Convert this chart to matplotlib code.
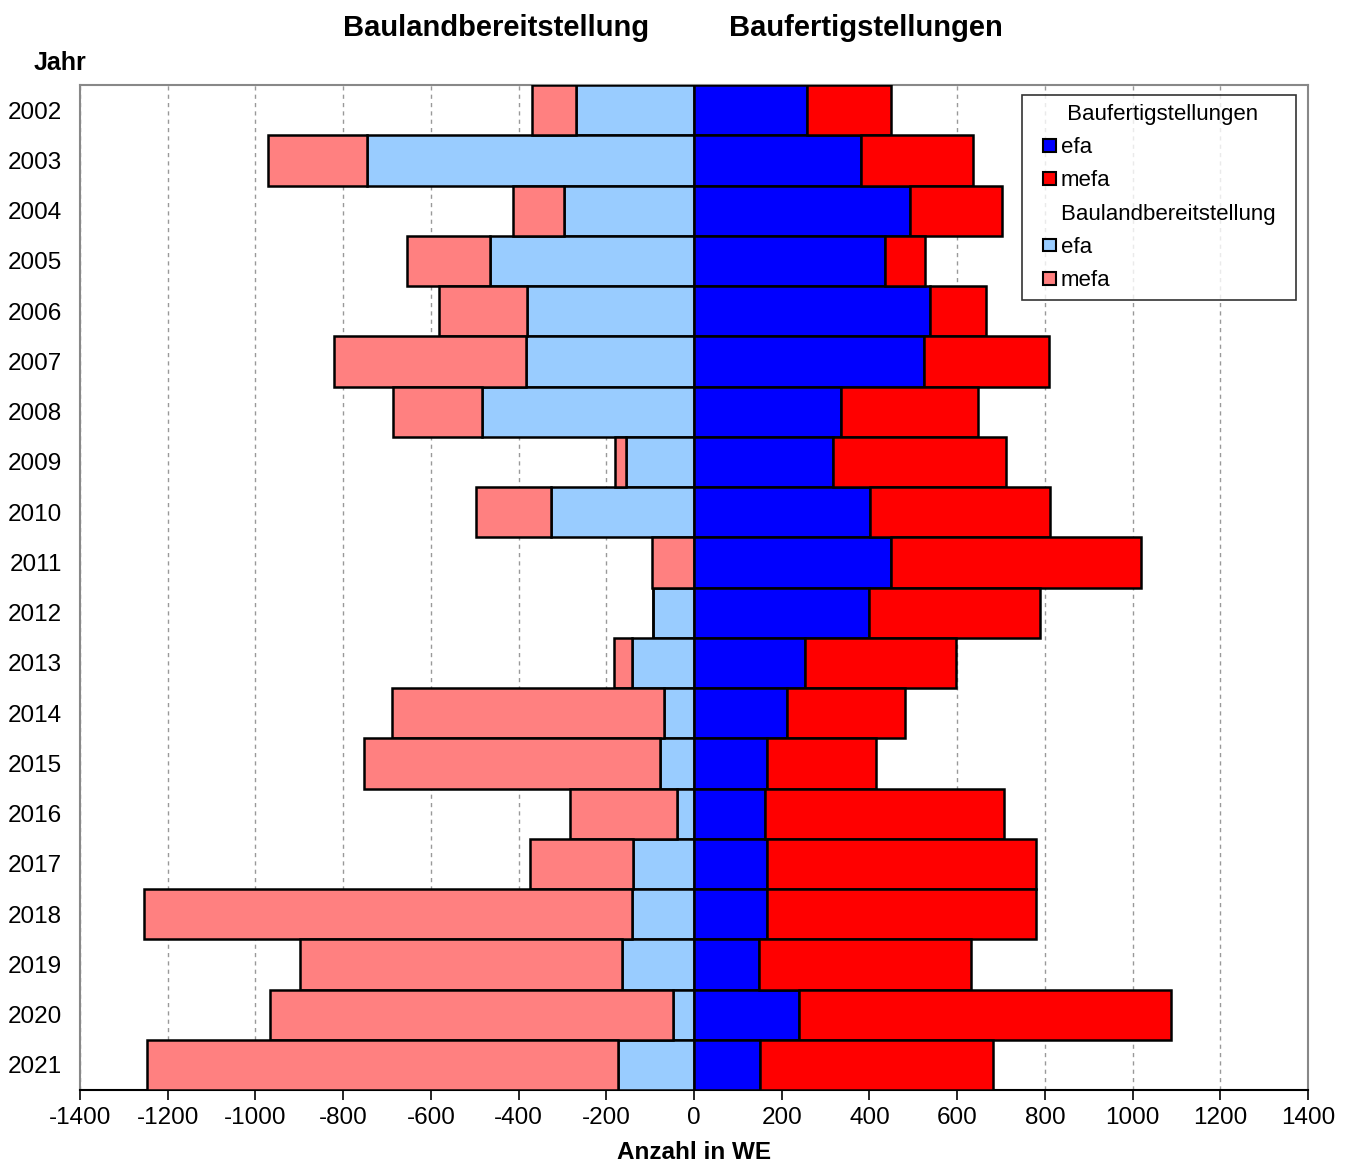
import numpy as np
import matplotlib.pyplot as plt
from matplotlib.patches import Patch, Rectangle
from matplotlib.legend_handler import HandlerPatch

plt.rcParams['font.family'] = ['Liberation Sans', 'DejaVu Sans']
plt.rcParams['axes.unicode_minus'] = False

# Data (Anzahl in WE)
jahre = [str(j) for j in range(2002, 2022)]
bauland_efa = [-270, -746, -296, -465, -381, -383, -483, -155, -326, 0,
               -93, -141, -68, -78, -39, -139, -141, -164, -48, -173]
bauland_gesamt = [-370, -971, -413, -654, -581, -821, -686, -180, -497, -96,
                  -93, -182, -689, -752, -283, -374, -1254, -898, -967, -1247]
fertig_efa = [258, 381, 492, 435, 538, 524, 335, 317, 401, 449,
              399, 253, 212, 166, 162, 166, 166, 148, 239, 150]
fertig_gesamt = [449, 636, 702, 527, 666, 809, 648, 711, 812, 1019,
                 789, 597, 481, 415, 707, 780, 780, 632, 1088, 682]

bauland_mefa = np.array(bauland_gesamt) - np.array(bauland_efa)
fertig_mefa = np.array(fertig_gesamt) - np.array(fertig_efa)

c_efa = '#0000FF'
c_mefa = '#FF0000'
c_lefa = '#99CCFF'
c_lmefa = '#FF8080'

fig = plt.figure(figsize=(13.53, 11.62), dpi=100)
ax = fig.add_axes([80 / 1353, 1 - 1090 / 1162, 1228 / 1353, 1005 / 1162])

y = np.arange(len(jahre))
kw = dict(height=1.0, edgecolor='black', linewidth=1.8, zorder=3)
ax.barh(y, bauland_efa, color=c_lefa, **kw)
ax.barh(y, bauland_mefa, left=bauland_efa, color=c_lmefa, **kw)
ax.barh(y, fertig_efa, color=c_efa, **kw)
ax.barh(y, fertig_mefa, left=fertig_efa, color=c_mefa, **kw)

ax.set_xlim(-1400, 1400)
ax.set_ylim(len(jahre) - 0.5, -0.5)
ax.set_xticks(range(-1400, 1401, 200))
ax.set_yticks(y)
ax.set_yticklabels(jahre)
ax.tick_params(axis='x', labelsize=17.5, length=7, width=1.2, direction='out', pad=5)
ax.tick_params(axis='y', labelsize=17.5, length=0, pad=13)
ax.grid(axis='x', color='#999999', linestyle=(0, (3, 3)), linewidth=1, zorder=0)
for s in ax.spines.values():
    s.set_color('#888888')
    s.set_linewidth(1.5)
ax.spines['bottom'].set_color('black')

ax.set_xlabel('Anzahl in WE', fontsize=17.5, fontweight='bold', labelpad=9)
fig.text(496 / 1353, 1 - 28 / 1162, 'Baulandbereitstellung', fontsize=21,
         fontweight='bold', ha='center', va='center')
fig.text(866 / 1353, 1 - 28 / 1162, 'Baufertigstellungen', fontsize=21,
         fontweight='bold', ha='center', va='center')
fig.text(60 / 1353, 1 - 63 / 1162, 'Jahr', fontsize=18, fontweight='bold',
         ha='center', va='center')


# small square at the right end of the handle box
def square(legend, orig_handle, xdescent, ydescent, width, height, fontsize):
    h = 0.58 * fontsize
    return Rectangle((width - h - xdescent, (height - h) / 2 - ydescent), h, h)


leer = Patch(facecolor='none', edgecolor='none')
handles = [leer,
           Patch(facecolor=c_efa, edgecolor='black', linewidth=1.5),
           Patch(facecolor=c_mefa, edgecolor='black', linewidth=1.5),
           leer,
           Patch(facecolor=c_lefa, edgecolor='black', linewidth=1.5),
           Patch(facecolor=c_lmefa, edgecolor='black', linewidth=1.5)]
labels = [' Baufertigstellungen', 'efa', 'mefa', 'Baulandbereitstellung  ', 'efa', 'mefa']
leg = ax.legend(handles, labels, loc='upper left',
                bbox_to_anchor=((1022 - 80) / 1228, 1 - (95 - 85) / 1005),
                fontsize=16, frameon=True, fancybox=False, edgecolor='black',
                handlelength=1.12, handleheight=0.7, handletextpad=0.22,
                labelspacing=0.55, borderpad=0.4, borderaxespad=0,
                handler_map={Patch: HandlerPatch(patch_func=square)})
leg.get_frame().set_linewidth(1.2)
leg.set_zorder(5)

fig.savefig('out.png', dpi=100)
